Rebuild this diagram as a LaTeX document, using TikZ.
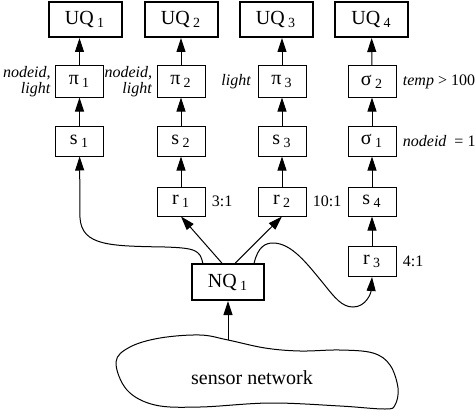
\documentclass[tikz,border=0pt]{standalone}
\usepackage{fontspec}
\setmainfont{Liberation Serif}
\usetikzlibrary{arrows.meta,positioning}

\begin{document}
\begin{tikzpicture}[
        x=0.5pt, y=-0.5pt,
        uq/.style={rectangle, draw, line width=1pt, minimum width=36.5pt, minimum height=17.5pt, inner sep=0pt},
        op/.style={rectangle, draw, line width=0.5pt, minimum width=24pt, minimum height=15pt, inner sep=0pt},
        lbl/.style={font=\fontsize{8pt}{8pt}\selectfont, inner sep=1pt},
        arr/.style={-{Triangle[length=7pt, width=4.5pt]}, line width=0.5pt}
    ]
    \useasboundingbox (0,0) rectangle (475,417);
    % user queries
    \node[uq] (uq1) at (85,19.5) {UQ\,\textsubscript{1}};
    \node[uq] (uq2) at (181,19.5) {UQ\,\textsubscript{2}};
    \node[uq] (uq3) at (276,19.5) {UQ\,\textsubscript{3}};
    \node[uq] (uq4) at (371.5,19.5) {UQ\,\textsubscript{4}};
    % projections and selections
    \node[op, minimum height=15.5pt] (p1) at (79.5,81.5) {π\,\textsubscript{1}};
    \node[op, minimum height=15.5pt] (p2) at (181,81.5) {π\,\textsubscript{2}};
    \node[op, minimum height=15.5pt] (p3) at (282,81.5) {π\,\textsubscript{3}};
    \node[op, minimum height=15.5pt] (sig2) at (372,81.5) {σ\,\textsubscript{2}};
    \node[op] (s1) at (79.5,141) {s\,\textsubscript{1}};
    \node[op] (s2) at (181,141) {s\,\textsubscript{2}};
    \node[op] (s3) at (282,141) {s\,\textsubscript{3}};
    \node[op] (sig1) at (372,141) {σ\,\textsubscript{1}};
    \node[op, minimum height=14.5pt] (r1) at (181,201.5) {r\,\textsubscript{1}};
    \node[op, minimum height=14.5pt] (r2) at (282,201.5) {r\,\textsubscript{2}};
    \node[op, minimum height=14.5pt] (s4) at (372,201.5) {s\,\textsubscript{4}};
    \node[op] (r3) at (372,261.5) {r\,\textsubscript{3}};
    % network query
    \node[uq, minimum width=36pt, minimum height=18pt] (nq1) at (228,282) {NQ\,\textsubscript{1}};
    % labels
    \node[lbl, left=1pt of p1, align=right] (p1lbl) {\textit{nodeid,}\\\textit{light}};
    \node[lbl, left=1pt of p2, align=right] (p2lbl) {\textit{nodeid,}\\\textit{light}};
    \node[lbl, left=2pt of p3] (p3lbl) {\textit{light}};
    \node[lbl, right=2pt of sig2] (sig2lbl) {\textit{temp} > 100};
    \node[lbl, right=2pt of sig1] (sig1lbl) {\textit{nodeid}\ \ = 1};
    \node[lbl, right=2pt of r1] (r1lbl) {3:1};
    \node[lbl, right=2pt of r2] (r2lbl) {10:1};
    \node[lbl, right=2pt of r3] (r3lbl) {4:1};
    % sensor network
    \draw[line width=0.5pt] plot[smooth cycle, tension=0.6] coordinates {
        (116,362) (130,347) (160,338) (200,335) (228,340) (265,348) (300,351)
        (340,350) (373,353) (390,365) (398,388) (395,405) (385,409) (340,406)
        (270,403) (200,407) (155,405) (127,390)};
    \coordinate (net) at (228,340);
    \node (sn) at (252,378) {sensor network};
    % connectors
    \draw[arr] (p1.north) -- (p1.north |- uq1.south);
    \draw[arr] (p2) -- (uq2);
    \draw[arr] (p3.north) -- (p3.north |- uq3.south);
    \draw[arr] (sig2) -- (uq4);
    \draw[arr] (s1) -- (p1);
    \draw[arr] (s2) -- (p2);
    \draw[arr] (s3) -- (p3);
    \draw[arr] (sig1) -- (sig2);
    \draw[arr] (r1) -- (s2);
    \draw[arr] (r2) -- (s3);
    \draw[arr] (s4) -- (sig1);
    \draw[arr] (r3) -- (s4);
    \draw[arr] (nq1.108) -- (r1.south);
    \draw[arr] (nq1.69) -- (r2.south);
    \draw[arr] (nq1.143) .. controls (200,250) and (195,248) .. (165,247)
        .. controls (110,246) and (82,246) .. (80,218) -- (s1);
    \draw[arr] (nq1.36) .. controls (258,247) and (265,243) .. (273,243)
        .. controls (292,243) and (308,265) .. (323,283)
        .. controls (335,298) and (342,307) .. (353,307)
        .. controls (366,307) and (371,293) .. (r3.south);
    \draw[arr] (net) -- (nq1);
\end{tikzpicture}
\end{document}
